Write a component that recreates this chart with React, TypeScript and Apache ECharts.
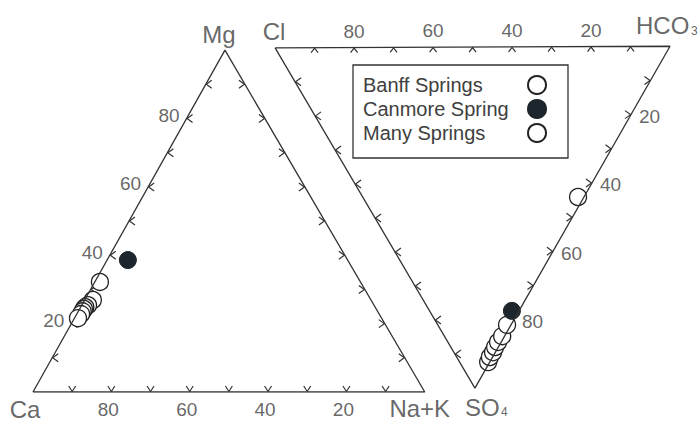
import React, { useEffect, useRef } from 'react';
import * as echarts from 'echarts';

// ---- data (percent) ----
// cations: [Ca, Mg, Na+K]
const banffCations = [
  [71.0, 26.9, 2.1], [73.0, 25.4, 1.6], [74.0, 24.8, 1.2], [74.6, 24.3, 1.1],
  [75.3, 23.6, 1.1], [76.1, 22.8, 1.1], [77.5, 21.6, 0.9],
];
const canmoreCations = [[56.1, 38.6, 5.3]];
const manyCations = [[66.5, 32.2, 1.3]];
// anions: [Cl, HCO3, SO4]
const banffAnions = [
  [0.4, 7.2, 92.4], [0.7, 8.4, 90.9], [0.6, 9.9, 89.5], [0.8, 11.2, 88.0],
  [0.8, 12.7, 86.5], [0.6, 14.6, 84.8], [1.0, 17.5, 81.5],
];
const canmoreAnions = [[1.8, 20.8, 77.4]];
const manyAnions = [[1.5, 54.4, 44.1]];

const tickLabels = [20, 40, 60, 80];
const tickSteps = [10, 20, 30, 40, 50, 60, 70, 80, 90];
const seriesNames = ['Banff Springs', 'Canmore Spring', 'Many Springs'];

// ---- layout (chart units) ----
const CA = [0, 0];
const NAK = [100, 0];
const MG = [49, 87.2];
const CL = [61.8, 87.8];
const HCO3 = [162.6, 88.2];
const SO4 = [112.8, 1.0];

const FONT = 'Liberation Sans, Arial, sans-serif';
const TXT = '#404040';
const LINE = '#333';

function lerp(A: number[], B: number[], t: number) {
  return [A[0] + (B[0] - A[0]) * t, A[1] + (B[1] - A[1]) * t];
}
function tern(A: number[], B: number[], C: number[], v: number[]) {
  const s = v[0] + v[1] + v[2];
  const a = v[0] / s, b = v[1] / s, c = v[2] / s;
  return [a * A[0] + b * B[0] + c * C[0], a * A[1] + b * B[1] + c * C[1]];
}
const cat = (v: number[]) => tern(CA, MG, NAK, v);
const an = (v: number[]) => tern(CL, HCO3, SO4, v);

export default function App() {
  const ref = useRef<HTMLDivElement>(null);
  useEffect(() => {
    const chart = echarts.init(ref.current!, null, { renderer: 'svg' });

    const edges: [number[], number[], number][] = [
      [CA, MG, 0], [MG, NAK, 1], [CA, NAK, 2],
      [CL, HCO3, 3], [CL, SO4, 0], [HCO3, SO4, 1],
    ];
    const ticks: number[][] = [];
    edges.forEach(([A, B, d]) => {
      tickSteps.forEach((k) => {
        const p = lerp(A, B, k / 100);
        ticks.push([p[0], p[1], d]);
      });
    });

    const lbl = (pos: string, dist: number, off: number[]) => ({
      show: true, position: pos, distance: dist, offset: off,
      color: TXT, fontSize: 19, fontFamily: FONT, formatter: (p: any) => p.name,
    });
    const tickLabelData: any[] = [];
    tickLabels.forEach((v) => {
      tickLabelData.push({ name: String(v), value: lerp(CA, MG, v / 100), label: lbl('left', 7, [0, -3]) });
      tickLabelData.push({ name: String(v), value: lerp(NAK, CA, v / 100), label: lbl('bottom', 8, [-3, 0]) });
      tickLabelData.push({ name: String(v), value: lerp(HCO3, CL, v / 100), label: lbl('top', 7, [0, 0]) });
      tickLabelData.push({ name: String(v), value: lerp(HCO3, SO4, v / 100), label: lbl('right', 8, [0, 2]) });
    });

    const vlabel = (fmt: string, off: number[], align = 'center') => ({
      show: true, position: 'inside', offset: off, align, formatter: fmt,
    });
    const vertexData = [
      { value: MG, label: vlabel('{a|Mg}', [-6, -16]) },
      { value: CL, label: vlabel('{a|Cl}', [-1, -16]) },
      { value: HCO3, label: vlabel('{a|HCO}', [-34, -21], 'left') },
      { value: HCO3, label: vlabel('{s|3}', [21, -15], 'left') },
      { value: CA, label: vlabel('{a|Ca}', [-8, 17]) },
      { value: NAK, label: vlabel('{a|Na+K}', [-5, 16]) },
      { value: SO4, label: vlabel('{a|SO}', [-10, 19], 'left') },
      { value: SO4, label: vlabel('{s|4}', [26, 24], 'left') },
    ];

    const openStyle = { color: '#fff', borderColor: '#222', borderWidth: 1.3, opacity: 1 };
    const filledStyle = { color: '#1c262c', borderColor: '#1c262c', borderWidth: 1, opacity: 1 };

    chart.setOption({
      animation: false,
      backgroundColor: '#fff',
      grid: { left: 33, right: 0, top: 0, bottom: 29 },
      xAxis: { type: 'value', min: 0, max: 170, show: false },
      yAxis: { type: 'value', min: 0, max: 100, show: false },
      legend: {
        data: seriesNames,
        orient: 'vertical',
        left: 353,
        top: 65,
        align: 'right',
        itemWidth: 18,
        itemHeight: 18,
        itemGap: 4,
        padding: [10, 21, 15, 10],
        borderColor: LINE,
        borderWidth: 1.3,
        selectedMode: false,
        formatter: (name: string) => `{t|${name}}`,
        textStyle: {
          fontSize: 20, fontFamily: FONT, color: TXT, lineHeight: 20,
          rich: { t: { width: 160, align: 'left', fontSize: 20, fontFamily: FONT, color: TXT, lineHeight: 20 } },
        },
      },
      series: [
        {
          type: 'line', silent: true, symbol: 'none',
          lineStyle: { color: LINE, width: 1.3 },
          data: [CA, NAK, MG, CA],
        },
        {
          type: 'line', silent: true, symbol: 'none',
          lineStyle: { color: LINE, width: 1.3 },
          data: [CL, HCO3, SO4, CL],
        },
        {
          type: 'custom', silent: true,
          coordinateSystem: 'cartesian2d',
          encode: { x: 0, y: 1 },
          data: ticks,
          renderItem: (_params: any, api: any) => {
            const p = api.coord([api.value(0), api.value(1)]);
            const d = api.value(2);
            const x = p[0], y = p[1];
            let pts: number[][];
            if (d === 0) pts = [[x + 6, y - 4], [x + 0.5, y], [x + 6, y + 4]];
            else if (d === 1) pts = [[x - 6, y - 4], [x - 0.5, y], [x - 6, y + 4]];
            else if (d === 2) pts = [[x - 3.5, y - 6], [x, y - 0.5], [x + 3.5, y - 6]];
            else pts = [[x - 3.5, y + 5], [x, y + 0.5], [x + 3.5, y + 5]];
            return {
              type: 'polyline',
              shape: { points: pts },
              style: { stroke: LINE, lineWidth: 1.2, fill: 'none' },
            };
          },
        },
        {
          type: 'scatter', silent: true, symbolSize: 0,
          data: tickLabelData,
        },
        {
          type: 'scatter', silent: true, symbolSize: 0,
          label: {
            rich: {
              a: { fontSize: 24, fontFamily: FONT, color: TXT, lineHeight: 20 },
              s: { fontSize: 12, fontFamily: FONT, color: TXT, lineHeight: 12 },
            },
          },
          data: vertexData,
        },
        {
          name: 'Banff Springs', type: 'scatter', symbol: 'circle', symbolSize: 17,
          itemStyle: openStyle,
          data: [...banffCations.map(cat), ...banffAnions.map(an)],
        },
        {
          name: 'Canmore Spring', type: 'scatter', symbol: 'circle', symbolSize: 17,
          itemStyle: filledStyle,
          data: [...canmoreCations.map(cat), ...canmoreAnions.map(an)],
        },
        {
          name: 'Many Springs', type: 'scatter', symbol: 'circle', symbolSize: 17,
          itemStyle: openStyle,
          data: [...manyCations.map(cat), ...manyAnions.map(an)],
        },
      ],
    });
    return () => chart.dispose();
  }, []);
  return <div ref={ref} style={{ position: 'fixed', left: 0, top: 0, width: 699, height: 421 }} />;
}
